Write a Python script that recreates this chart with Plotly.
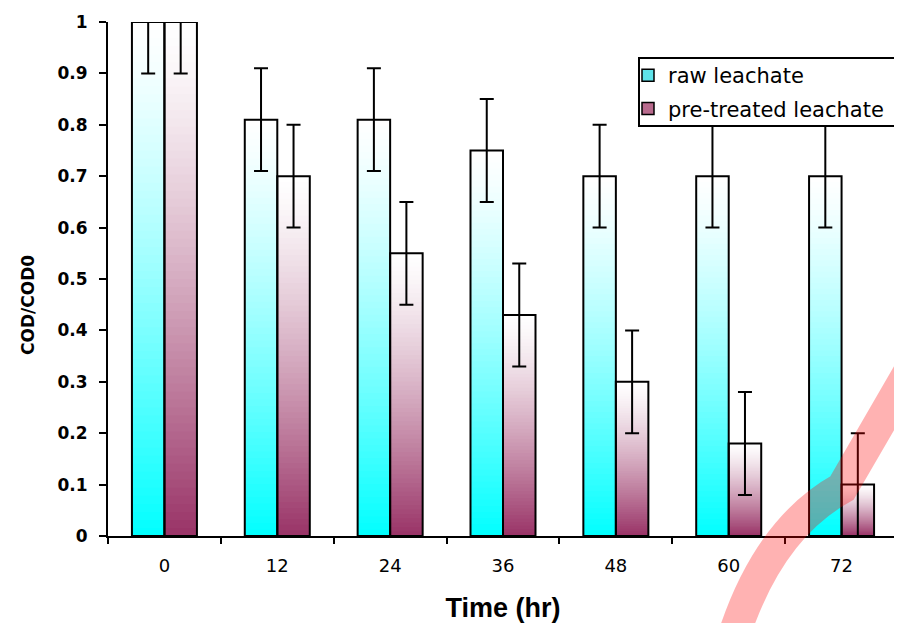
import plotly.graph_objects as go

# ---- data ----
times = ["0", "12", "24", "36", "48", "60", "72"]
raw_leachate = [1.00, 0.81, 0.81, 0.75, 0.70, 0.70, 0.70]
raw_error = [0.10, 0.10, 0.10, 0.10, 0.10, 0.10, 0.10]
pretreated_leachate = [1.00, 0.70, 0.55, 0.43, 0.30, 0.18, 0.10]
pretreated_error = [0.10, 0.10, 0.10, 0.10, 0.10, 0.10, 0.10]
series_names = ["raw leachate", "pre-treated leachate"]
y_ticks = [0, 0.1, 0.2, 0.3, 0.4, 0.5, 0.6, 0.7, 0.8, 0.9, 1]

# ---- styling ----
BAR_W = 0.288
N_SLICES = 64
RAW_RGB = (0, 255, 255)
PRE_RGB = (153, 51, 102)


def blend(rgb, s):
    r, g, b = (round(255 + (c - 255) * s) for c in rgb)
    return f"rgb({r},{g},{b})"


def gradient_bar(values, rgb, offset):
    xs, bases, heights, colors = [], [], [], []
    for cat, v in zip(times, values):
        for k in range(N_SLICES):
            b = v * k / N_SLICES
            xs.append(cat)
            bases.append(b)
            heights.append(v - b)
            t = 1 - (k + 0.5) / N_SLICES  # fraction from top
            colors.append(blend(rgb, t ** 1.3))
    return go.Bar(
        x=xs, y=heights, base=bases, offset=offset, width=BAR_W,
        marker=dict(color=colors, line=dict(width=0)),
        showlegend=False, hoverinfo="skip",
    )


def outline_bar(values, errors, offset, name):
    return go.Bar(
        x=times, y=values, offset=offset, width=BAR_W, name=name,
        marker=dict(color="rgba(0,0,0,0)", line=dict(color="black", width=2)),
        error_y=dict(type="data", array=errors, color="black", thickness=2, width=7),
        showlegend=False,
    )


fig = go.Figure()
fig.add_trace(gradient_bar(raw_leachate, RAW_RGB, -BAR_W))
fig.add_trace(gradient_bar(pretreated_leachate, PRE_RGB, 0))
fig.add_trace(outline_bar(raw_leachate, raw_error, -BAR_W, series_names[0]))
fig.add_trace(outline_bar(pretreated_leachate, pretreated_error, 0, series_names[1]))

# legend entries
fig.add_trace(go.Bar(x=[None], y=[None], name=series_names[0], legendgroup="a",
                     marker=dict(color="#5ee3ea", line=dict(color="black", width=1.5))))
fig.add_trace(go.Bar(x=[None], y=[None], name=series_names[1], legendgroup="b",
                     marker=dict(color="#b86a8d", line=dict(color="black", width=1.5))))

# page geometry: the page body has an 8px margin; plot area spans page x 108..898, y 22..536
PAGE_OFF = 8
PL, PR, PT, PB = 108, 898, 22, 536
FIG_W, FIG_H = 902 - PAGE_OFF, 623 - PAGE_OFF
W, H = PR - PL, PB - PT


def px(xp, yp):
    return (xp - PL) / W, (PB - yp) / H


p0 = px(735, 632)
c0 = px(770, 528)
p1 = px(842, 488)
p2 = px(915, 362)
wm_path = (f"M {p0[0]:.4f} {p0[1]:.4f} Q {c0[0]:.4f} {c0[1]:.4f} {p1[0]:.4f} {p1[1]:.4f} "
           f"L {p2[0]:.4f} {p2[1]:.4f}")

box_a = px(639, 58)
box_b = px(912, 126)
leg_xy = px(628, 55)
ytitle_xy = px(28, 305)

fig.update_layout(
    width=FIG_W, height=FIG_H,
    margin=dict(l=PL - PAGE_OFF, r=FIG_W - (PR - PAGE_OFF), t=PT - PAGE_OFF,
                b=FIG_H - (PB - PAGE_OFF), autoexpand=False),
    paper_bgcolor="white", plot_bgcolor="white",
    barmode="overlay",
    font=dict(family="DejaVu Sans", color="black"),
    showlegend=True,
    legend=dict(
        x=leg_xy[0], y=leg_xy[1], xanchor="left", yanchor="top",
        bgcolor="rgba(0,0,0,0)", borderwidth=0,
        font=dict(family="DejaVu Sans", size=21, color="black"),
        traceorder="grouped", tracegroupgap=3, itemwidth=30,
    ),
    xaxis=dict(
        type="category", range=[-0.5, 6.5],
        showline=True, linecolor="black", linewidth=2, mirror=False,
        ticks="outside", tickson="boundaries", ticklen=6, tickwidth=2, tickcolor="black",
        tickfont=dict(family="DejaVu Sans", size=18, color="black"),
        ticklabelstandoff=12,
        showgrid=False, zeroline=False,
        title=dict(text="Time (hr)", font=dict(family="Liberation Sans", size=27,
                                             color="black", weight="bold"), standoff=38),
        automargin=False,
    ),
    yaxis=dict(
        range=[0, 1], tickvals=y_ticks,
        showline=True, linecolor="black", linewidth=2,
        ticks="outside", ticklen=7, tickwidth=2, tickcolor="black",
        tickfont=dict(family="DejaVu Sans", size=17, color="black", weight="bold"),
        ticklabelstandoff=8,
        showgrid=False, zeroline=False, automargin=False,
    ),
    annotations=[dict(
        text="COD/COD0", textangle=-90, xref="paper", yref="paper",
        x=ytitle_xy[0], y=ytitle_xy[1], xanchor="center", yanchor="middle",
        showarrow=False,
        font=dict(family="DejaVu Sans", size=17, color="black", weight="bold"),
    )],
    shapes=[
        dict(type="rect", xref="paper", yref="paper", layer="above",
             x0=box_a[0], y0=box_a[1], x1=box_b[0], y1=box_b[1],
             line=dict(color="black", width=2), fillcolor="white"),
        dict(type="path", path=wm_path, xref="paper", yref="paper", layer="above",
             line=dict(color="rgba(255,0,0,0.3)", width=32),
             fillcolor="rgba(0,0,0,0)"),
    ],
)

fig.write_html("out.html")
